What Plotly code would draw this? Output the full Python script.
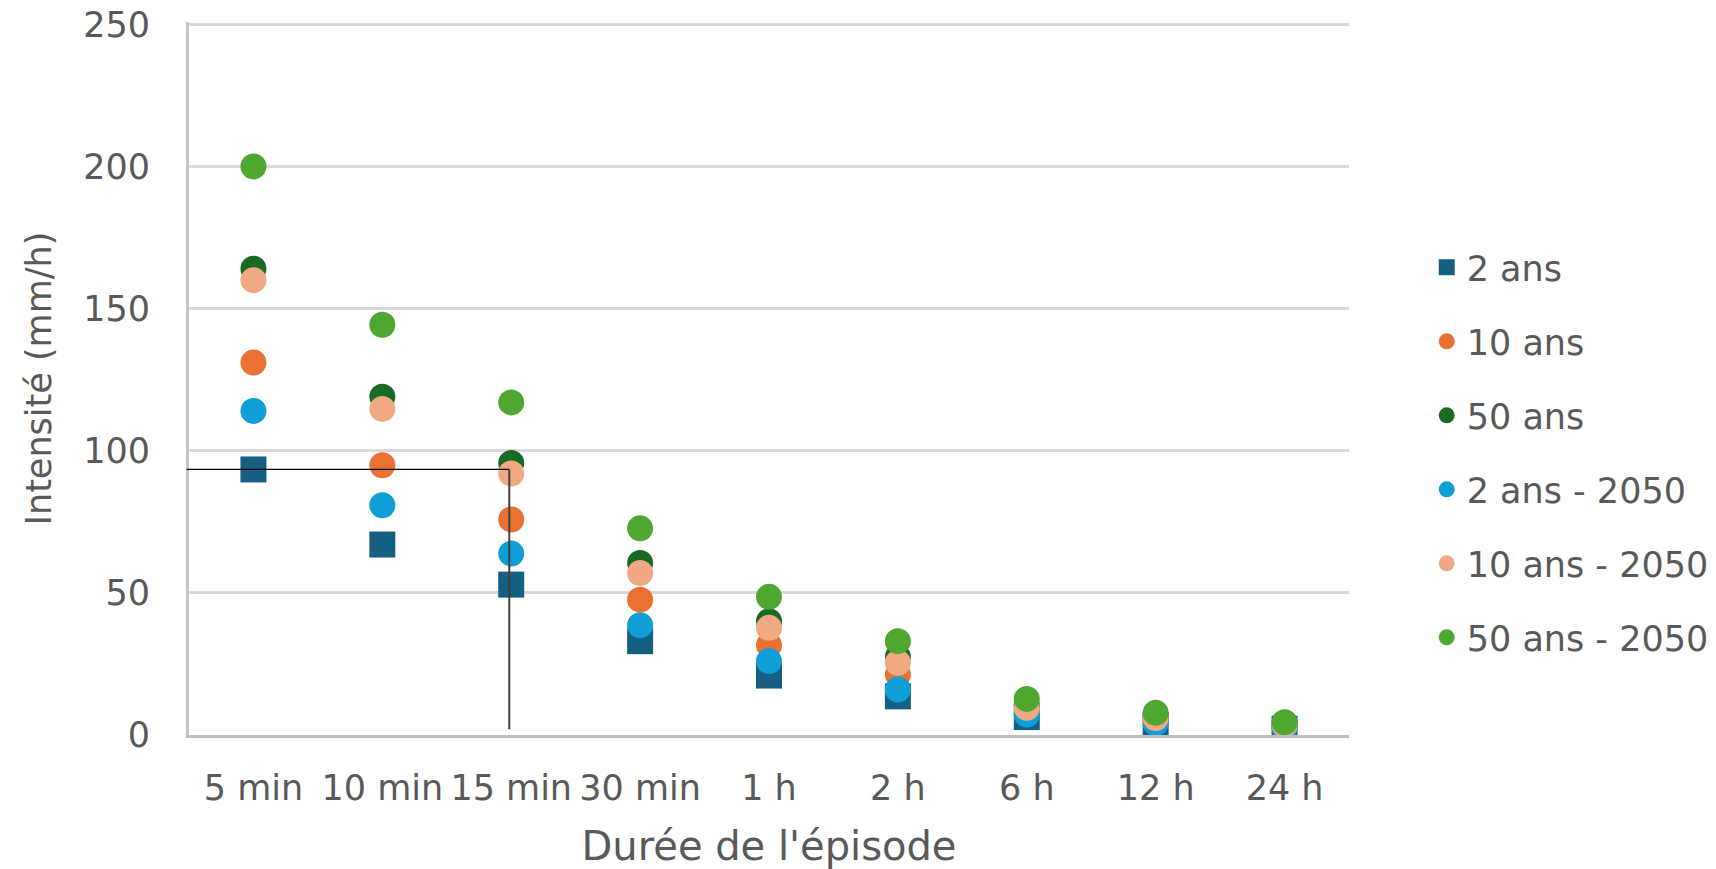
import plotly.graph_objects as go

# Durées d'averse (catégories de l'axe des x)
durees = ["5 min", "10 min", "15 min", "30 min", "1 h", "2 h", "6 h", "12 h", "24 h"]

# Intensités (mm/h) par période de retour
deux_ans = [93.4, 67.0, 52.9, 33.0, 20.9, 13.6, 6.3, 3.6, 2.2]
dix_ans = [131.0, 94.9, 75.8, 47.6, 31.6, 21.3, 8.5, 5.0, 3.0]
cinquante_ans = [164.0, 119.0, 95.7, 60.5, 40.0, 27.5, 10.5, 6.3, 3.7]
deux_ans_2050 = [114.0, 80.8, 63.8, 38.6, 26.0, 16.0, 7.2, 4.2, 2.6]
dix_ans_2050 = [160.0, 114.7, 92.0, 57.0, 37.7, 25.4, 9.6, 6.0, 3.6]
cinquante_ans_2050 = [200.0, 144.3, 117.0, 72.7, 48.6, 33.0, 12.7, 7.8, 4.5]

series = [
    ("2 ans", deux_ans, "#156082", "square"),
    ("10 ans", dix_ans, "#E97132", "circle"),
    ("50 ans", cinquante_ans, "#196B24", "circle"),
    ("2 ans - 2050", deux_ans_2050, "#0F9ED5", "circle"),
    ("10 ans - 2050", dix_ans_2050, "#F1A983", "circle"),
    ("50 ans - 2050", cinquante_ans_2050, "#4EA72E", "circle"),
]

FONT = "DejaVu Sans"
GREY_TXT = "#595959"
Y_MAX = 250.8  # léger dépassement pour que la grille à 250 reste visible

fig = go.Figure()
for nom, vals, couleur, symbole in series:
    fig.add_trace(go.Scatter(
        x=durees, y=vals, mode="markers", name=nom, legendgroup=nom,
        marker=dict(color=couleur, symbol=symbole, size=26, line=dict(width=0)),
    ))

# Repère de lecture : intensité 2 ans / 5 min reportée sur la durée 15 min
y_repere = deux_ans[0]
x_repere = durees.index("15 min") - 0.015
fig.add_shape(type="line", xref="paper", yref="y", x0=-0.002, x1=(x_repere + 0.5) / 9,
              y0=y_repere, y1=y_repere, line=dict(color="#000000", width=1.2), layer="above")
fig.add_shape(type="line", xref="x", yref="y", x0=x_repere, x1=x_repere,
              y0=y_repere, y1=2, line=dict(color="#404040", width=2), layer="above")

fig.update_layout(
    width=1716, height=869,
    margin=dict(l=189, r=367, t=22, b=134, autoexpand=False),
    paper_bgcolor="white", plot_bgcolor="white",
    font=dict(family=FONT, color=GREY_TXT, size=34),
    showlegend=True,
    legend=dict(
        x=1.067, xanchor="left", y=0.697, yanchor="top",
        font=dict(family=FONT, size=35, color=GREY_TXT),
        tracegroupgap=25.5, itemsizing="trace", bgcolor="rgba(0,0,0,0)",
    ),
    xaxis=dict(
        type="category", range=[-0.5, 8.5], automargin=False,
        showgrid=False, showline=True, linecolor="#BFBFBF", linewidth=3,
        ticks="", ticklabelstandoff=20,
        tickfont=dict(family=FONT, size=35, color=GREY_TXT),
        title=dict(text="Durée de l'épisode", font=dict(family=FONT, size=40, color=GREY_TXT),
                   standoff=33),
        zeroline=False,
    ),
    yaxis=dict(
        range=[0, Y_MAX], tick0=0, dtick=50, automargin=False,
        showgrid=True, gridcolor="#D9D9D9", gridwidth=2.5,
        showline=True, linecolor="#C4C4C4", linewidth=3,
        ticks="", ticklabelstandoff=29,
        tickfont=dict(family=FONT, size=35, color=GREY_TXT),
        title=dict(text="Intensité (mm/h)", font=dict(family=FONT, size=35, color=GREY_TXT),
                   standoff=21),
        zeroline=False,
    ),
)

fig.write_html("out.html")
